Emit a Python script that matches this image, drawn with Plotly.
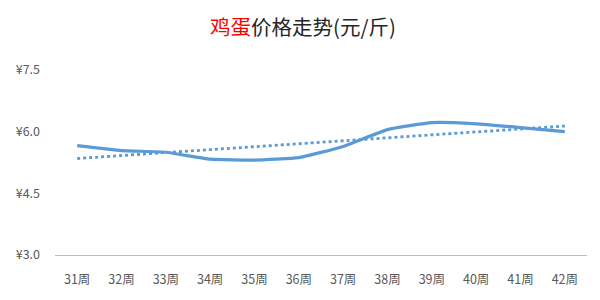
import numpy as np
import plotly.graph_objects as go

weeks = ["31周", "32周", "33周", "34周", "35周", "36周", "37周", "38周", "39周", "40周", "41周", "42周"]
prices = [5.66, 5.54, 5.50, 5.33, 5.31, 5.37, 5.64, 6.05, 6.22, 6.19, 6.10, 6.00]
y_ticks = [3.0, 4.5, 6.0, 7.5]
y_tick_labels = ["¥3.0", "¥4.5", "¥6.0", "¥7.5"]

idx = np.arange(len(prices))
slope, intercept = np.polyfit(idx, prices, 1)
trend = slope * idx + intercept

fig = go.Figure()
fig.add_trace(go.Scatter(x=weeks, y=prices, mode="lines",
                         line=dict(color="#5B9BD5", width=3.2, shape="spline", smoothing=0.4),
                         hoverinfo="skip"))
fig.add_trace(go.Scatter(x=weeks, y=trend, mode="lines",
                         line=dict(color="#5B9BD5", width=2.8, dash="dot"),
                         hoverinfo="skip"))

fig.update_layout(
    width=600, height=300,
    margin=dict(l=55, r=13, t=70, b=45),
    paper_bgcolor="white", plot_bgcolor="white",
    showlegend=False,
    font=dict(family="Noto Sans CJK SC, Noto Sans, sans-serif", color="#595959", size=12),
    title=dict(text='<span style="color:#FF0000">鸡蛋</span>价格走势(元/斤)',
               x=0.505, xanchor="center", y=0.907, yanchor="middle",
               font=dict(size=20.5, color="#262626", family="Noto Sans CJK SC, sans-serif")),
    xaxis=dict(showgrid=False, showline=True, linecolor="#BFBFBF", linewidth=1.2,
               ticks="", tickfont=dict(size=12.5, color="#595959"), zeroline=False,
               ticklabelstandoff=13,
               range=[-0.5, len(weeks) - 0.5]),
    yaxis=dict(range=[3.0, 7.5], tickvals=y_ticks, ticktext=y_tick_labels,
               showgrid=False, showline=False, zeroline=False, ticks="",
               ticklabelstandoff=14,
               tickfont=dict(size=12.5, color="#595959")),
)

fig.write_html("out.html")
